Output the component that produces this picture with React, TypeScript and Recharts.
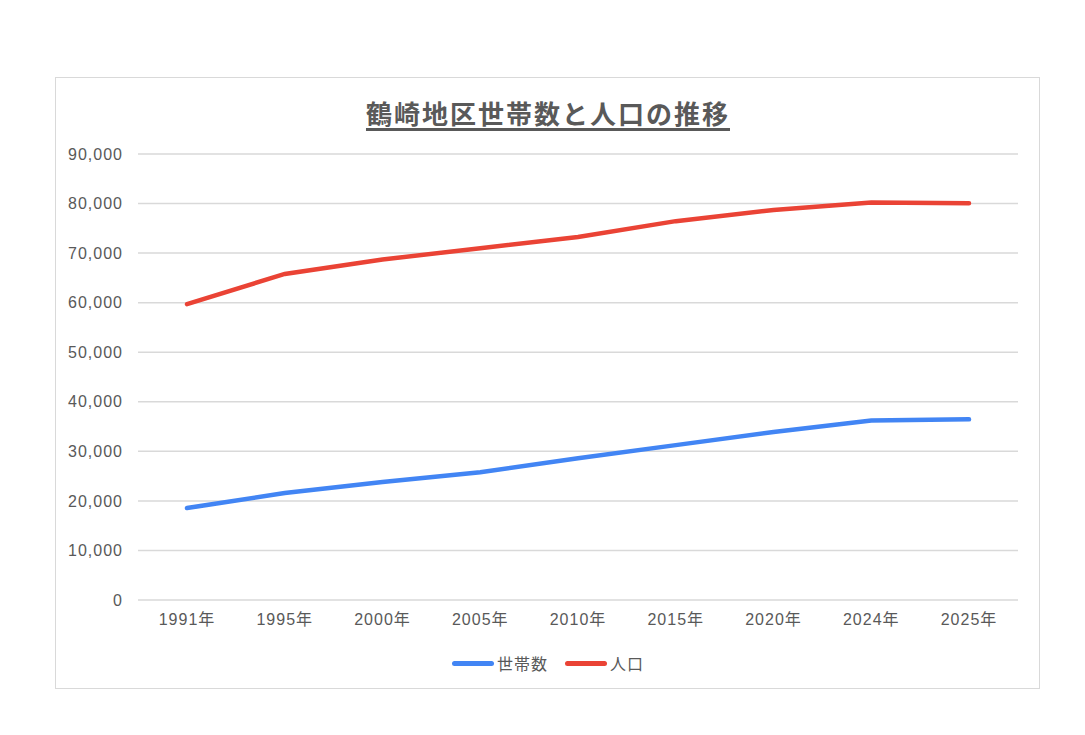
import { CartesianGrid, Line, LineChart, XAxis, YAxis } from "recharts"

// 鶴崎地区 世帯数・人口
const years = ["1991年", "1995年", "2000年", "2005年", "2010年", "2015年", "2020年", "2024年", "2025年"]
const households = [18550, 21600, 23800, 25800, 28600, 31250, 33900, 36200, 36450]
const population = [59700, 65800, 68700, 71000, 73250, 76450, 78700, 80200, 80050]
const yTicks = [0, 10000, 20000, 30000, 40000, 50000, 60000, 70000, 80000, 90000]

const FONT = '"Liberation Sans", Arial, "Noto Sans CJK JP", sans-serif'
const TEXT = "#595959"
const BLUE = "#4285f4"
const RED = "#ea4335"

const data = years.map((year, i) => ({
  year,
  households: households[i],
  population: population[i],
}))

const tickStyle = { fill: TEXT, fontSize: 16, fontFamily: FONT, letterSpacing: 1 }

function LegendBox() {
  const items = [
    { label: "世帯数", color: BLUE },
    { label: "人口", color: RED },
  ]
  return (
    <div style={{ display: "flex", justifyContent: "center", gap: 17, fontFamily: FONT, fontSize: 16, letterSpacing: 1, color: TEXT }}>
      {items.map((it) => (
        <div key={it.label} style={{ display: "flex", alignItems: "center" }}>
          <span style={{ display: "inline-block", width: 42, height: 5, borderRadius: 3, background: it.color, marginRight: 3 }} />
          <span>{it.label}</span>
        </div>
      ))}
    </div>
  )
}

export default function App() {
  return (
    <div style={{ position: "absolute", left: 0, top: 0, width: 1085, height: 735, background: "#fff" }}>
      <div
        style={{
          position: "absolute",
          left: 55,
          top: 77,
          width: 985,
          height: 612,
          border: "1px solid #d9d9d9",
          boxSizing: "border-box",
        }}
      />
      <div
        style={{
          position: "absolute",
          left: 0,
          width: 1096,
          top: 94,
          textAlign: "center",
          fontFamily: FONT,
          fontSize: 26,
          letterSpacing: 2,
          fontWeight: "bold",
          color: TEXT,
          textDecoration: "underline",
          textUnderlineOffset: 4,
          textDecorationThickness: 3,
        }}
      >
        鶴崎地区世帯数と人口の推移
      </div>
      <div style={{ position: "absolute", left: 0, top: 0 }}>
        <LineChart width={1085} height={735} data={data} margin={{ top: 154, right: 67, bottom: 105, left: 58 }}>
          <CartesianGrid vertical={false} stroke="#d9d9d9" strokeWidth={1.5} />
          <XAxis
            dataKey="year"
            axisLine={false}
            tickLine={false}
            tickMargin={8}
            padding={{ left: 49, right: 49 }}
            tick={tickStyle}
            interval={0}
          />
          <YAxis
            width={80}
            domain={[0, 90000]}
            ticks={yTicks}
            axisLine={false}
            tickLine={false}
            tickMargin={9}
            tickFormatter={(v: number) => v.toLocaleString("en-US")}
            tick={tickStyle}
          />
          <Line
            type="linear"
            dataKey="households"
            name="世帯数"
            stroke={BLUE}
            strokeWidth={4.5}
            strokeLinecap="round"
            dot={false}
            isAnimationActive={false}
          />
          <Line
            type="linear"
            dataKey="population"
            name="人口"
            stroke={RED}
            strokeWidth={4.5}
            strokeLinecap="round"
            dot={false}
            isAnimationActive={false}
          />
        </LineChart>
      </div>
      <div style={{ position: "absolute", left: 0, width: 1096, top: 651 }}>
        <LegendBox />
      </div>
    </div>
  )
}
